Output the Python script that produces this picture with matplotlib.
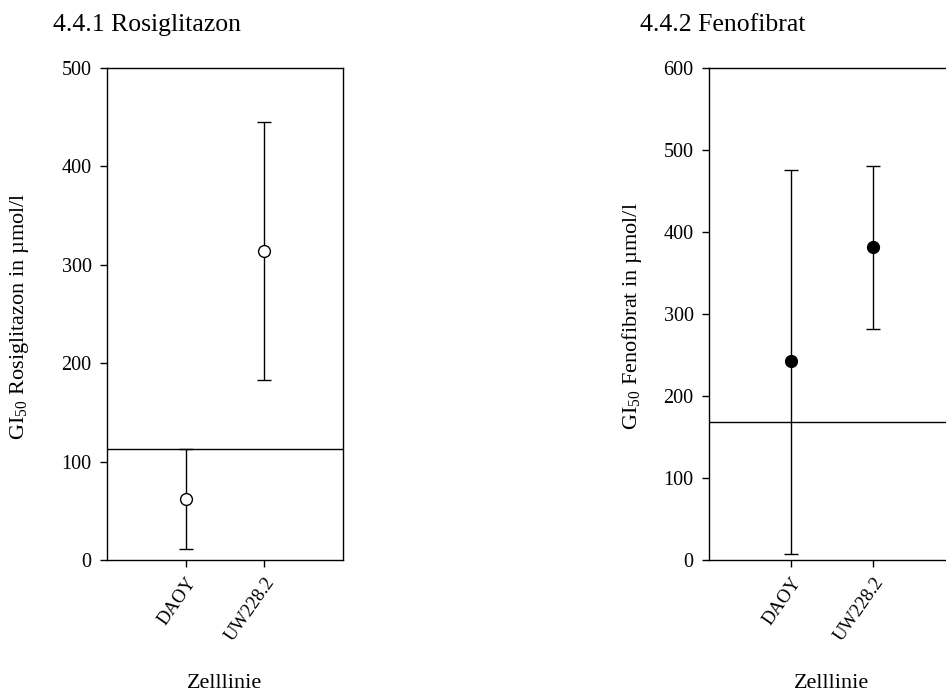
import numpy as np
import matplotlib
matplotlib.use('agg')
import matplotlib.pyplot as plt

plt.rcParams['font.family'] = ['Liberation Serif', 'DejaVu Serif']
plt.rcParams['mathtext.fontset'] = 'custom'
plt.rcParams['mathtext.rm'] = 'Liberation Serif'

cell_lines = ['DAOY', 'UW228.2']

# Rosiglitazon: GI50 mean and error range (umol/l)
rosi_mean = [62, 314]
rosi_low = [11.5, 183]
rosi_high = [112.5, 445]
rosi_ref = 112.5

# Fenofibrat
feno_mean = [242, 381.5]
feno_low = [7.5, 282]
feno_high = [475.5, 480.5]
feno_ref = 168.5

fig = plt.figure(figsize=(9.46, 6.93), dpi=100)
ax1 = fig.add_axes([0.1131, 0.1919, 0.2495, 0.7104])
ax2 = fig.add_axes([0.7495, 0.1919, 0.2600, 0.7104])


def draw_panel(ax, mean, low, high, ref, ymax, face, ylab):
    x = np.arange(1, len(mean) + 1)
    mean = np.array(mean)
    err = [mean - np.array(low), np.array(high) - mean]
    ax.errorbar(x, mean, yerr=err, fmt='o', color='black', mfc=face, mec='black',
                ms=8.5, mew=1.0, elinewidth=1.0, capsize=5, capthick=1.0, zorder=3)
    ax.axhline(ref, color='black', lw=1.0, zorder=2)
    ax.set_xlim(0, 3)
    ax.set_ylim(0, ymax)
    ax.set_yticks(np.arange(0, ymax + 1, 100))
    ax.set_xticks(x)
    ax.set_xticklabels(cell_lines, rotation=55, ha='right', va='top',
                       rotation_mode='anchor', fontsize=13.5)
    ax.tick_params(axis='y', labelsize=14.5, length=5, width=1.0, pad=6, direction='out')
    ax.tick_params(axis='x', length=5, width=1.0, pad=5, direction='out')
    for s in ax.spines.values():
        s.set_linewidth(1.0)
    ax.set_ylabel(ylab, fontsize=16)


draw_panel(ax1, rosi_mean, rosi_low, rosi_high, rosi_ref, 500, 'white',
           r'GI$_{50}$ Rosiglitazon in µmol/l')
draw_panel(ax2, feno_mean, feno_low, feno_high, feno_ref, 600, 'black',
           r'GI$_{50}$ Fenofibrat in µmol/l')

ax1.yaxis.set_label_coords(-0.32, 0.496)
ax2.yaxis.set_label_coords(-0.265, 0.496)

fig.text(53 / 946, 1 - 31 / 693, '4.4.1 Rosiglitazon', fontsize=18.5, va='baseline', ha='left')
fig.text(640 / 946, 1 - 31 / 693, '4.4.2 Fenofibrat', fontsize=18.5, va='baseline', ha='left')
fig.text(225 / 946, 1 - 683 / 693, 'Zelllinie', fontsize=16, ha='center', va='center')
fig.text(832 / 946, 1 - 683 / 693, 'Zelllinie', fontsize=16, ha='center', va='center')

fig.savefig('out.png', dpi=100)
